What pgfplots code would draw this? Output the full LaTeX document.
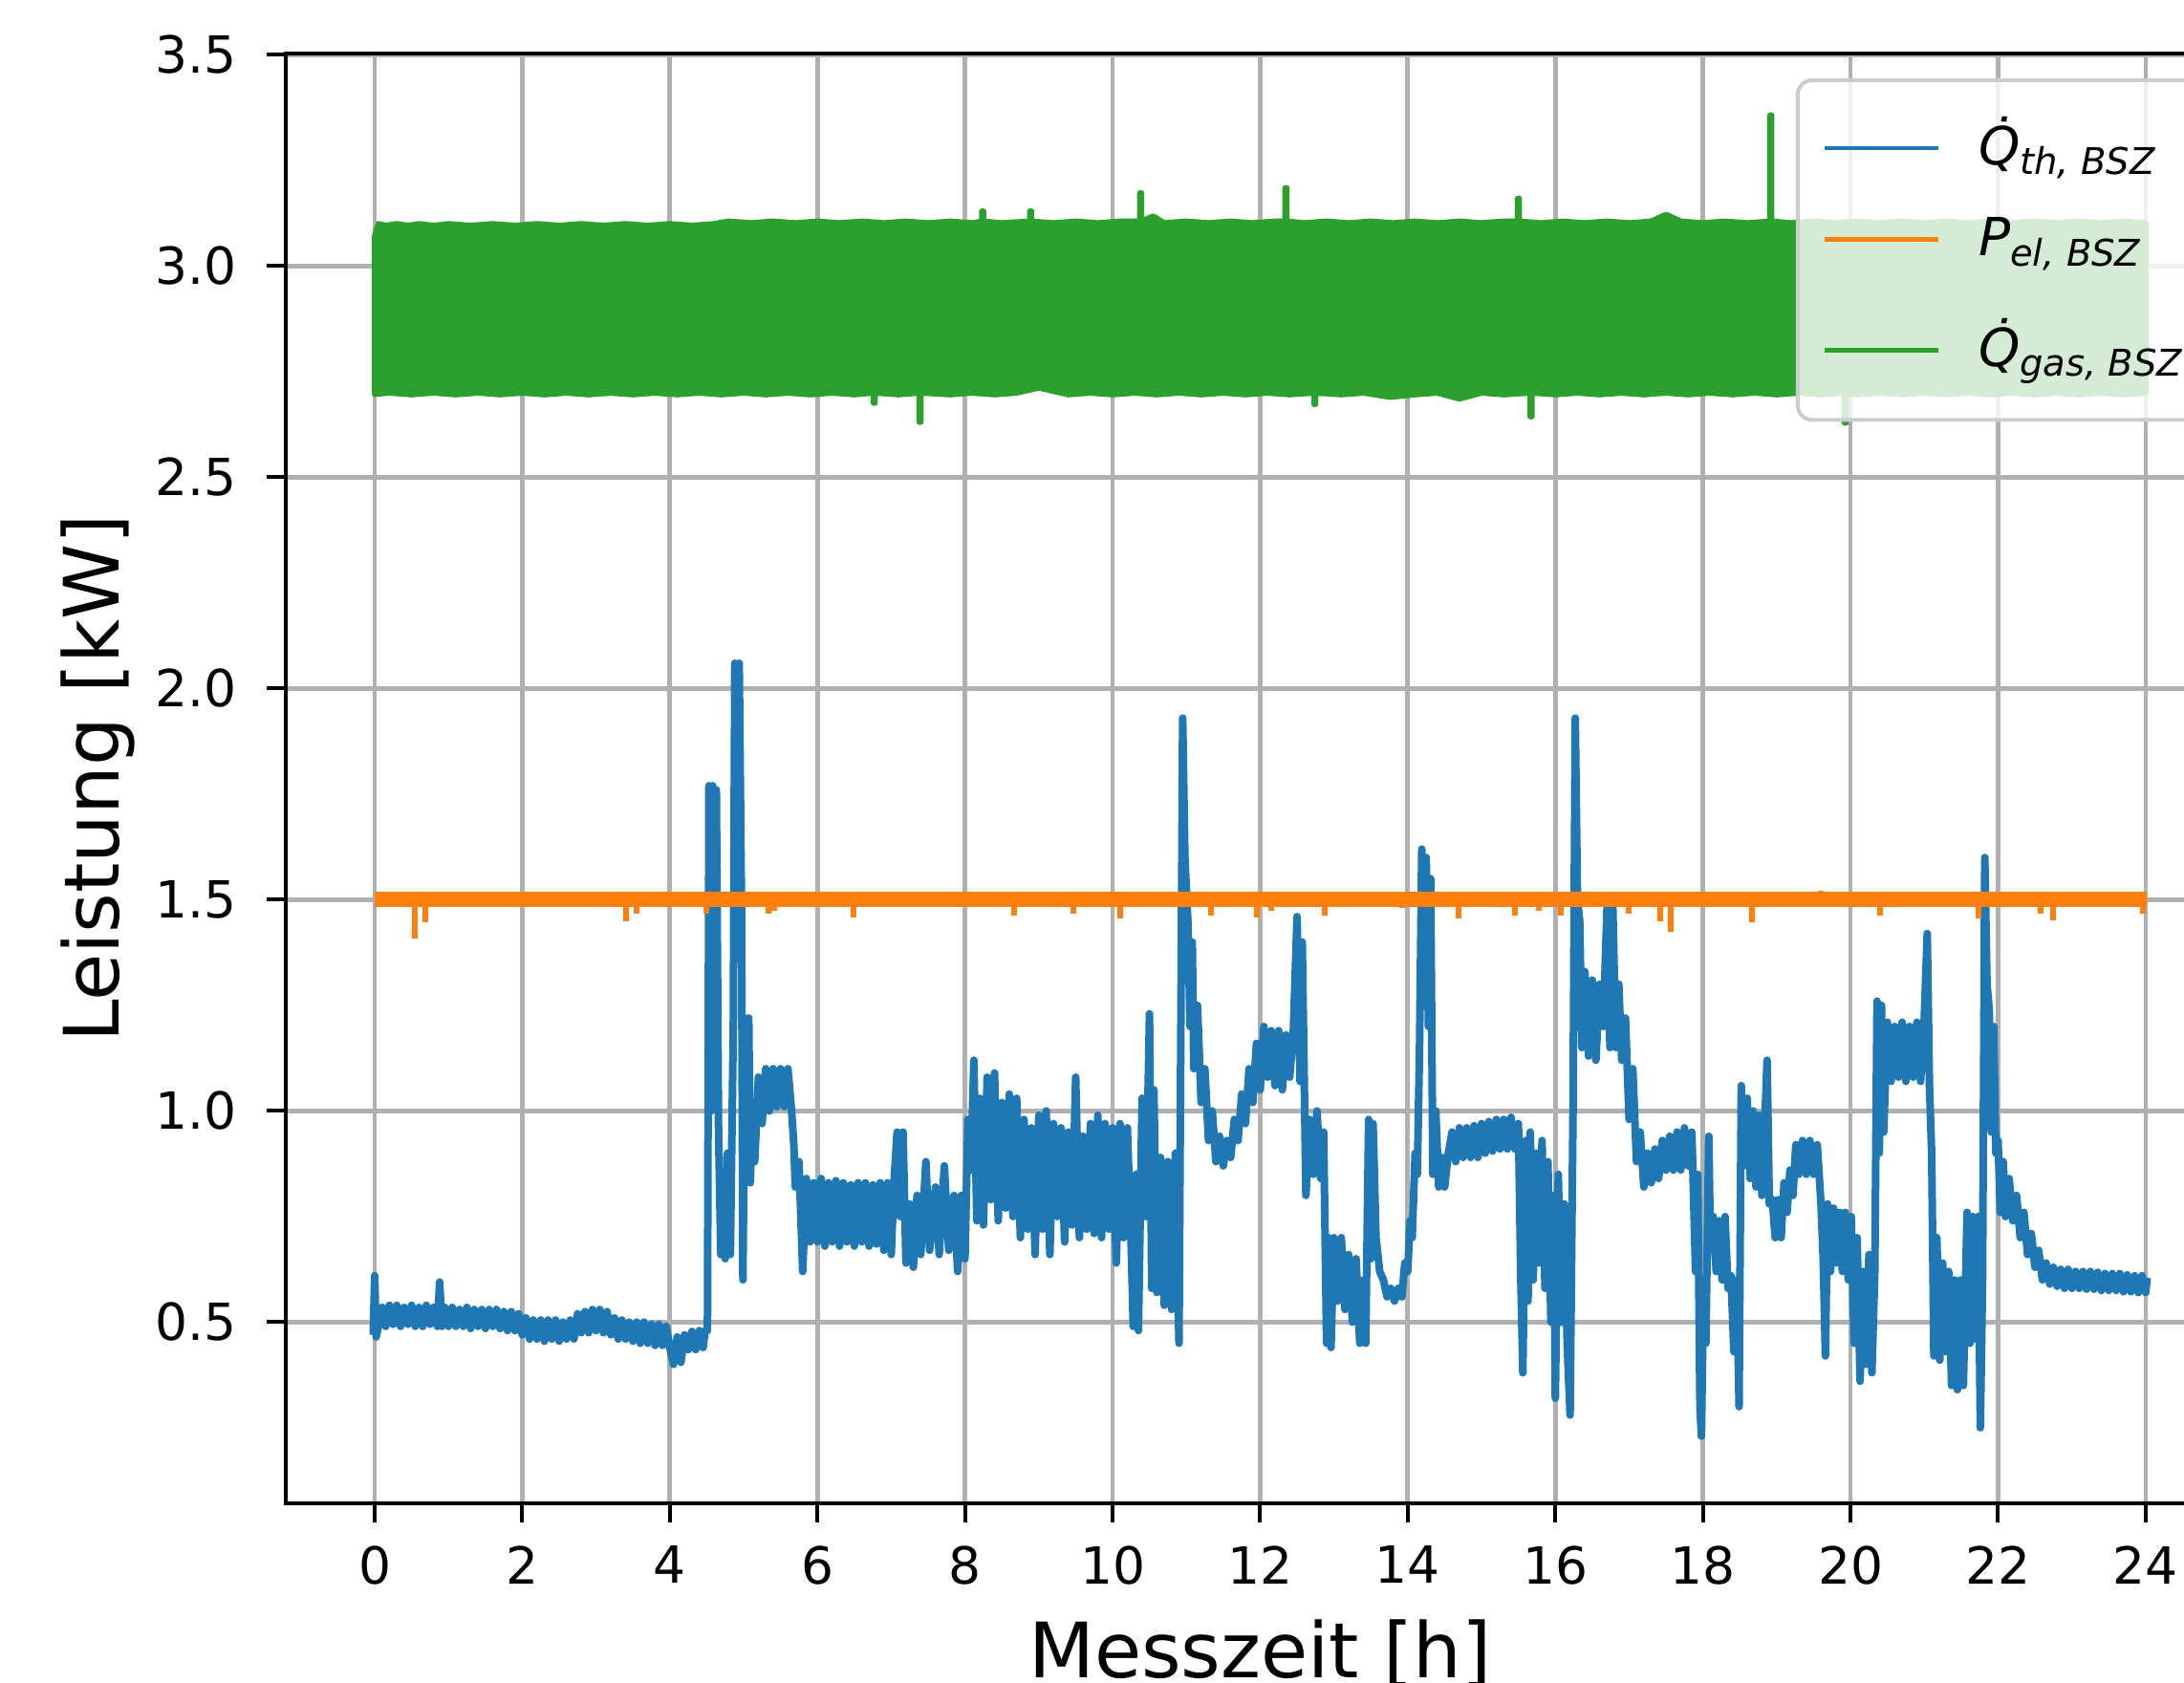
\documentclass[border=0pt]{standalone}
\usepackage{fontspec}
\setmainfont{DejaVu Sans}
\usepackage{pgfplots}
\pgfplotsset{compat=1.18}
\definecolor{c0}{HTML}{1F77B4}
\definecolor{c1}{HTML}{FF7F0E}
\definecolor{c2}{HTML}{2CA02C}
\definecolor{gridgray}{HTML}{B0B0B0}
\definecolor{legendgray}{HTML}{CCCCCC}

\begin{document}
\begin{tikzpicture}
\begin{axis}[
  scale only axis, width=407.8pt, height=303.6pt,
  xmin=-1.2, xmax=25.2, ymin=0.071, ymax=3.504,
  xtick={0,2,...,24}, ytick={0.5,1.0,1.5,2.0,2.5,3.0,3.5},
  tick pos=left, tick align=outside,
  major tick length=4pt,
  tick style={black, line width=0.8pt},
  axis line style={line width=0.8pt},
  grid=major, major grid style={gridgray, line width=0.95pt},
  /pgf/number format/assume math mode=true,
  ticklabel style={font=\fontsize{10.7}{12}\selectfont, inner sep=0pt},
  yticklabel style={/pgf/number format/.cd, fixed, fixed zerofill, precision=1},
  yticklabel shift=6.2pt, xticklabel shift=4.7pt,
  xlabel={Messzeit [h]}, ylabel={Leistung [kW]},
  label style={font=\fontsize{16}{19}\selectfont},
  xlabel style={at={(axis description cs:0.5,-0.1205)}, anchor=base},
  ylabel style={at={(axis description cs:-0.0856,0.5)}, anchor=base},
  every axis plot/.append style={line join=round},
  legend image code/.code={\draw[#1, line width=0.9pt, fill=none] (0pt,3.5pt) -- (23.8pt,3.5pt); \path (0pt,-4pt);},
  legend style={at={(axis description cs:0.775,0.9827)}, anchor=north west,
    draw=legendgray, line width=0.8pt, fill=white, fill opacity=0.8,
    draw opacity=1, text opacity=1, rounded corners=3pt,
    font=\fontsize{11}{13}\selectfont, inner xsep=4pt, inner ysep=6.5pt,
    row sep=0pt, nodes={inner sep=0pt}, cells={anchor=base west},
    /tikz/every odd column/.append style={column sep=8pt}},
]
% Qdot th
\addplot[c0, line width=1.6pt] coordinates {
(-0.02,0.47) (0.0,0.61) (0.02,0.465) (0.05,0.49) (0.1,0.535) (0.15,0.49) (0.2,0.54) (0.25,0.495)
(0.3,0.54) (0.35,0.49) (0.4,0.535) (0.45,0.495) (0.5,0.54) (0.55,0.49) (0.6,0.535) (0.65,0.49)
(0.7,0.54) (0.75,0.495) (0.8,0.535) (0.85,0.49) (0.88,0.595) (0.91,0.49) (0.95,0.535) (1.0,0.49)
(1.05,0.535) (1.1,0.49) (1.15,0.53) (1.2,0.49) (1.25,0.535) (1.3,0.485) (1.35,0.53) (1.4,0.49)
(1.45,0.53) (1.5,0.485) (1.55,0.53) (1.6,0.49) (1.65,0.53) (1.7,0.485) (1.75,0.525) (1.8,0.48)
(1.85,0.525) (1.9,0.48) (1.95,0.52) (2.0,0.47) (2.05,0.51) (2.1,0.46) (2.15,0.505) (2.2,0.46)
(2.25,0.505) (2.3,0.455) (2.35,0.505) (2.4,0.46) (2.45,0.505) (2.5,0.455) (2.55,0.50) (2.6,0.46)
(2.65,0.505) (2.7,0.46) (2.75,0.52) (2.8,0.475) (2.85,0.525) (2.9,0.475) (2.95,0.53) (3.0,0.48)
(3.05,0.53) (3.1,0.475) (3.15,0.525) (3.2,0.47) (3.25,0.51) (3.3,0.46) (3.35,0.505) (3.4,0.46)
(3.45,0.5) (3.5,0.455) (3.55,0.5) (3.6,0.45) (3.65,0.5) (3.7,0.45) (3.75,0.495) (3.8,0.445)
(3.85,0.495) (3.9,0.445) (3.95,0.49) (4.0,0.44) (4.05,0.40) (4.1,0.465) (4.15,0.405) (4.2,0.47)
(4.25,0.435) (4.3,0.478) (4.35,0.435) (4.4,0.48) (4.45,0.44) (4.48,0.48)
(4.51,0.48) (4.53,1.77) (4.56,1.0) (4.58,1.77) (4.61,1.05) (4.63,1.76) (4.66,0.95) (4.69,0.66)
(4.72,0.80) (4.75,0.65) (4.78,0.90) (4.82,0.66) (4.86,1.2) (4.88,2.06) (4.91,1.4) (4.94,2.06)
(4.97,1.5) (4.99,0.60) (5.02,1.22) (5.05,0.95) (5.07,1.22) (5.09,0.83) (5.12,1.0) (5.15,0.88)
(5.2,1.08) (5.25,0.97) (5.3,1.1) (5.35,1.0) (5.4,1.1) (5.45,1.01) (5.5,1.1) (5.55,1.01)
(5.6,1.1) (5.65,1.0) (5.68,0.92) (5.7,0.82) (5.75,0.88) (5.8,0.62) (5.85,0.84)
(5.9,0.69) (5.95,0.83) (6.0,0.69) (6.05,0.84) (6.1,0.68) (6.15,0.83) (6.2,0.69) (6.25,0.835)
(6.3,0.68) (6.35,0.83) (6.4,0.69) (6.45,0.825) (6.5,0.68) (6.55,0.83) (6.6,0.69) (6.65,0.83)
(6.7,0.68) (6.75,0.825) (6.8,0.685) (6.85,0.83) (6.9,0.67) (6.95,0.83) (7.0,0.66) (7.04,0.84)
(7.08,0.95) (7.12,0.75) (7.16,0.95)
(7.2,0.64) (7.25,0.78) (7.3,0.63) (7.35,0.8) (7.4,0.66) (7.47,0.88) (7.52,0.67) (7.6,0.82)
(7.65,0.66) (7.72,0.87) (7.78,0.67) (7.85,0.8) (7.9,0.62) (7.95,0.8) (8.0,0.65) (8.04,0.98)
(8.08,0.86) (8.12,1.12) (8.16,0.74)
(8.2,1.03) (8.25,0.73) (8.3,1.08) (8.35,0.79) (8.4,1.09) (8.45,0.74) (8.5,1.02) (8.55,0.77)
(8.6,1.04) (8.65,0.75) (8.7,1.03) (8.75,0.7) (8.8,0.98) (8.85,0.72) (8.9,0.96) (8.95,0.66)
(9.0,0.99) (9.05,0.72) (9.1,1.0) (9.15,0.66) (9.2,0.97) (9.25,0.75) (9.3,0.96) (9.35,0.69)
(9.4,0.95) (9.45,0.73) (9.5,1.08) (9.55,0.70) (9.6,0.94) (9.65,0.72) (9.7,0.97) (9.75,0.71)
(9.8,0.99) (9.85,0.7) (9.9,0.97) (9.95,0.72) (10.0,0.96) (10.05,0.64) (10.1,0.97) (10.15,0.70)
(10.2,0.96) (10.25,0.69) (10.28,0.49) (10.32,0.85) (10.35,0.48) (10.4,1.03) (10.45,0.75) (10.5,1.23)
(10.53,0.58) (10.56,1.05) (10.6,0.57) (10.65,0.89) (10.7,0.54) (10.75,0.88) (10.8,0.53) (10.85,0.90)
(10.9,0.45) (10.95,1.93) (10.98,1.6) (11.02,1.45) (11.05,1.2) (11.08,1.4) (11.1,1.1) (11.15,1.25)
(11.2,1.02) (11.25,1.1) (11.3,0.93) (11.35,1.0) (11.4,0.88) (11.45,0.94) (11.5,0.87)
(11.55,0.93) (11.6,0.89) (11.65,0.98) (11.7,0.93) (11.75,1.04) (11.8,0.97) (11.85,1.1) (11.9,1.02)
(11.95,1.16) (12.0,1.05) (12.05,1.2) (12.1,1.08) (12.15,1.19) (12.2,1.06) (12.25,1.19) (12.3,1.05)
(12.35,1.18) (12.4,1.08) (12.45,1.19) (12.5,1.46) (12.54,1.07) (12.57,1.4) (12.62,0.80) (12.67,0.98)
(12.72,0.85) (12.77,1.0) (12.82,0.84) (12.86,0.95) (12.9,0.45) (12.93,0.7) (12.96,0.44) (13.0,0.7)
(13.05,0.55) (13.1,0.7) (13.15,0.53) (13.2,0.66) (13.25,0.5) (13.3,0.65) (13.35,0.45) (13.4,0.6)
(13.43,0.45) (13.47,0.98) (13.5,0.65) (13.53,0.97) (13.57,0.7) (13.62,0.62) (13.67,0.6) (13.72,0.56)
(13.77,0.58) (13.82,0.55) (13.87,0.58) (13.92,0.56) (13.96,0.64) (14.0,0.62) (14.03,0.74) (14.06,0.7)
(14.1,0.9) (14.13,0.85) (14.16,1.15) (14.19,1.62) (14.22,1.25) (14.25,1.6) (14.28,1.2) (14.31,1.55)
(14.34,0.85) (14.38,1.0) (14.42,0.82) (14.46,0.89) (14.5,0.82) (14.55,0.90)
(14.6,0.95) (14.65,0.88) (14.7,0.96) (14.75,0.89) (14.8,0.96) (14.85,0.89) (14.9,0.965) (14.95,0.89)
(15.0,0.97) (15.05,0.9) (15.1,0.975) (15.15,0.905) (15.2,0.98) (15.25,0.91) (15.3,0.98) (15.35,0.91)
(15.4,0.985) (15.45,0.91) (15.5,0.97) (15.53,0.62) (15.56,0.38) (15.6,0.93) (15.63,0.55) (15.66,0.95)
(15.7,0.6) (15.74,0.9) (15.78,0.64) (15.82,0.93) (15.86,0.58) (15.9,0.88) (15.94,0.5) (15.98,0.8)
(16.0,0.32) (16.04,0.85) (16.08,0.5) (16.12,0.78) (16.16,0.45) (16.2,0.28) (16.24,1.0) (16.27,1.93)
(16.3,1.5) (16.33,1.45) (16.36,1.15) (16.4,1.33) (16.45,1.13) (16.5,1.31) (16.55,1.12) (16.6,1.3)
(16.65,1.2) (16.7,1.48) (16.74,1.15) (16.78,1.48) (16.82,1.15) (16.86,1.3) (16.9,1.12) (16.95,1.22)
(17.0,0.98) (17.05,1.1) (17.1,0.88) (17.15,0.95) (17.2,0.82) (17.25,0.9) (17.3,0.83) (17.35,0.91)
(17.4,0.84) (17.45,0.93) (17.5,0.86) (17.55,0.94) (17.6,0.86) (17.65,0.95) (17.7,0.86) (17.75,0.96)
(17.8,0.87) (17.85,0.95) (17.9,0.62) (17.93,0.85) (17.96,0.3) (17.98,0.23) (18.01,0.6) (18.04,0.45)
(18.08,0.94) (18.1,0.7) (18.14,0.75) (18.18,0.62) (18.22,0.74) (18.26,0.6) (18.3,0.75) (18.34,0.58)
(18.38,0.61) (18.42,0.43) (18.46,0.6) (18.49,0.3) (18.52,1.06) (18.55,0.87) (18.6,1.03) (18.64,0.84)
(18.68,1.0) (18.72,0.82) (18.76,0.99) (18.8,0.8) (18.84,0.98) (18.87,1.12) (18.9,0.78) (18.94,0.79)
(18.98,0.7) (19.02,0.79) (19.06,0.7) (19.1,0.83) (19.14,0.76) (19.18,0.86) (19.22,0.8) (19.26,0.92)
(19.3,0.85) (19.35,0.93) (19.4,0.85) (19.45,0.93) (19.5,0.85) (19.55,0.92) (19.6,0.78) (19.63,0.65)
(19.66,0.42) (19.69,0.78) (19.73,0.62) (19.77,0.77) (19.81,0.64) (19.85,0.76) (19.89,0.62) (19.93,0.76)
(19.97,0.6) (20.01,0.75) (20.05,0.45) (20.09,0.7) (20.13,0.36) (20.17,0.62) (20.21,0.4) (20.25,0.66)
(20.29,0.38) (20.33,0.62) (20.36,1.26) (20.39,0.9) (20.42,1.25) (20.45,0.95) (20.5,1.21) (20.55,1.07)
(20.6,1.2) (20.65,1.08) (20.7,1.21) (20.75,1.07) (20.8,1.2) (20.85,1.08) (20.9,1.21) (20.95,1.07)
(21.0,1.22) (21.04,1.42) (21.07,1.06) (21.1,0.9) (21.13,0.42) (21.17,0.7) (21.21,0.41) (21.25,0.64)
(21.29,0.43) (21.33,0.62) (21.37,0.35) (21.41,0.6) (21.45,0.34) (21.49,0.6) (21.53,0.35) (21.58,0.76)
(21.62,0.45) (21.66,0.75) (21.7,0.46) (21.73,0.75) (21.76,0.25) (21.79,0.6) (21.82,1.6) (21.85,1.3)
(21.88,1.24) (21.91,0.95) (21.94,1.2) (21.97,0.9) (22.0,0.93) (22.03,0.76) (22.07,0.88) (22.1,0.75)
(22.15,0.84) (22.2,0.74) (22.25,0.80) (22.3,0.70) (22.35,0.76) (22.4,0.66) (22.45,0.71) (22.5,0.63)
(22.55,0.67) (22.6,0.6) (22.65,0.64) (22.7,0.59) (22.75,0.63) (22.8,0.585) (22.85,0.625) (22.9,0.58)
(22.95,0.625) (23.0,0.58) (23.05,0.62) (23.1,0.58) (23.15,0.62) (23.2,0.578) (23.25,0.62) (23.3,0.578)
(23.35,0.618) (23.4,0.575) (23.45,0.615) (23.5,0.575) (23.55,0.615) (23.6,0.575) (23.65,0.615) (23.7,0.572)
(23.75,0.612) (23.8,0.572) (23.85,0.61) (23.9,0.57) (23.95,0.61) (24.0,0.57) (24.02,0.605)
};
\addlegendentry{\itshape\rule{0pt}{11.2pt}\.{Q}\textsubscript{th, BSZ}}
% P el: flat level and its short dips
\addplot[c1, line width=3.2pt] coordinates {(0,1.5) (24.02,1.5)};
\addlegendentry{\itshape\rule{0pt}{14.3pt}P\textsubscript{el, BSZ}}
\addplot[c1, line width=1.2pt, forget plot, unbounded coords=jump] coordinates {
(0.55,1.5) (0.55,1.409) (0.551,nan) (0.68,1.5) (0.68,1.446) (0.681,nan) (2.74,1.5) (2.74,1.482) (2.741,nan)
(3.41,1.5) (3.41,1.45) (3.411,nan) (3.55,1.5) (3.55,1.466) (3.551,nan) (4.49,1.5) (4.49,1.468) (4.491,nan)
(4.88,1.5) (4.88,1.482) (4.881,nan) (5.33,1.5) (5.33,1.468) (5.331,nan) (5.41,1.5) (5.41,1.474) (5.411,nan)
(6.49,1.5) (6.49,1.458) (6.491,nan) (8.67,1.5) (8.67,1.462) (8.671,nan) (9.47,1.5) (9.47,1.468) (9.471,nan)
(10.1,1.5) (10.1,1.456) (10.11,nan) (11.33,1.5) (11.33,1.462) (11.331,nan) (11.95,1.5) (11.95,1.458) (11.951,nan)
(12.15,1.5) (12.15,1.474) (12.151,nan) (12.88,1.5) (12.88,1.462) (12.881,nan) (13.92,1.5) (13.92,1.48) (13.921,nan)
(14.69,1.5) (14.69,1.456) (14.691,nan) (15.45,1.5) (15.45,1.462) (15.451,nan) (15.77,1.5) (15.77,1.474) (15.771,nan)
(16.08,1.5) (16.08,1.462) (16.081,nan) (16.99,1.5) (16.99,1.468) (16.991,nan) (17.42,1.5) (17.42,1.45) (17.421,nan)
(17.57,1.5) (17.57,1.423) (17.571,nan) (18.67,1.5) (18.67,1.446) (18.671,nan) (19.6,1.5) (19.6,1.521) (19.61,nan)
(20.4,1.5) (20.4,1.462) (20.41,nan) (21.74,1.5) (21.74,1.456) (21.741,nan) (22.58,1.5) (22.58,1.468) (22.581,nan)
(22.75,1.5) (22.75,1.452) (22.751,nan) (23.96,1.5) (23.96,1.468)
};
% Qdot gas: envelope of the noisy band
\addplot[c2, line width=1.2pt, fill=c2] coordinates {
(0,2.70) (0,3.07) (0.05,3.10) (0.15,3.096) (0.3,3.10) (0.45,3.096) (0.6,3.10) (0.8,3.096) (1.0,3.10)
(1.3,3.096) (1.6,3.10) (1.9,3.096) (2.2,3.10) (2.5,3.096) (2.8,3.10) (3.1,3.096) (3.4,3.10) (3.7,3.096)
(4.0,3.10) (4.3,3.096) (4.6,3.10) (4.8,3.106) (5.1,3.102) (5.4,3.106) (5.7,3.102) (6.0,3.106) (6.3,3.102)
(6.6,3.106) (6.9,3.102) (7.2,3.106) (7.5,3.102) (7.8,3.106) (8.1,3.102) (8.23,3.106) (8.23,3.13) (8.25,3.13)
(8.25,3.106) (8.5,3.102) (8.88,3.106) (8.88,3.13) (8.9,3.13) (8.9,3.106) (9.2,3.102) (9.5,3.106) (9.8,3.102)
(10.1,3.106) (10.37,3.106) (10.37,3.173) (10.39,3.173) (10.39,3.106) (10.55,3.118) (10.7,3.102) (11.0,3.106)
(11.3,3.102) (11.6,3.106) (11.9,3.102) (12.2,3.106) (12.34,3.106) (12.34,3.185) (12.36,3.185) (12.36,3.106)
(12.6,3.102) (12.9,3.106) (13.2,3.102) (13.5,3.106) (13.8,3.102) (14.1,3.106) (14.4,3.102) (14.7,3.106)
(15.0,3.102) (15.3,3.106) (15.49,3.106) (15.49,3.16) (15.51,3.16) (15.51,3.106) (15.8,3.102) (16.1,3.106)
(16.4,3.102) (16.7,3.106) (17.0,3.102) (17.3,3.106) (17.5,3.122) (17.7,3.106) (18.0,3.102) (18.3,3.106)
(18.6,3.102) (18.91,3.106) (18.91,3.357) (18.93,3.357) (18.93,3.106) (19.2,3.102) (19.5,3.106) (19.8,3.102)
(20.1,3.106) (20.4,3.102) (20.7,3.106) (21.0,3.102) (21.3,3.106) (21.6,3.102) (21.9,3.106) (22.2,3.102)
(22.5,3.106) (22.8,3.102) (23.1,3.106) (23.4,3.102) (23.7,3.106) (24.0,3.102)
(24.0,2.70) (23.7,2.696) (23.4,2.70) (23.1,2.696) (22.8,2.70) (22.5,2.696) (22.2,2.70) (21.9,2.696)
(21.6,2.70) (21.3,2.696) (21.0,2.70) (20.7,2.696) (20.4,2.70) (20.1,2.696) (19.94,2.70) (19.94,2.629)
(19.92,2.629) (19.92,2.70) (19.6,2.696) (19.3,2.70) (19.0,2.696) (18.7,2.70) (18.4,2.696) (18.1,2.70)
(17.8,2.696) (17.5,2.70) (17.2,2.696) (16.9,2.70) (16.6,2.696) (16.3,2.70) (16.0,2.696) (15.68,2.70)
(15.68,2.644) (15.66,2.644) (15.66,2.70) (15.3,2.696) (15.0,2.70) (14.7,2.686) (14.4,2.70) (14.1,2.696)
(13.76,2.69) (13.4,2.70) (13.1,2.696) (12.75,2.70) (12.75,2.673) (12.73,2.673) (12.73,2.70) (12.4,2.696)
(12.1,2.70) (11.8,2.696) (11.5,2.70) (11.2,2.696) (10.9,2.70) (10.6,2.696) (10.3,2.70) (10.0,2.696)
(9.7,2.70) (9.4,2.696) (9.0,2.712) (8.7,2.70) (8.4,2.696) (8.1,2.70) (7.8,2.696) (7.4,2.70) (7.4,2.631)
(7.38,2.631) (7.38,2.70) (7.1,2.696) (6.78,2.70) (6.78,2.676) (6.76,2.676) (6.76,2.70) (6.5,2.696)
(6.2,2.70) (5.9,2.696) (5.6,2.70) (5.3,2.696) (5.0,2.70) (4.7,2.696) (4.4,2.70) (4.1,2.696) (3.8,2.70)
(3.5,2.696) (3.2,2.70) (2.9,2.696) (2.6,2.70) (2.3,2.696) (2.0,2.70) (1.7,2.696) (1.4,2.70) (1.1,2.696)
(0.8,2.70) (0.5,2.696) (0.2,2.70) (0,2.697)
} -- cycle;
\addlegendentry{\itshape\rule{0pt}{17.6pt}\.{Q}\textsubscript{gas, BSZ}}
\coordinate (bbsw) at (axis cs:-5.078,-0.3534);
\coordinate (bbne) at (axis cs:24.52,3.630);
\end{axis}
\pgfresetboundingbox
\path[use as bounding box] (bbsw) rectangle (bbne);
\end{tikzpicture}
\end{document}
